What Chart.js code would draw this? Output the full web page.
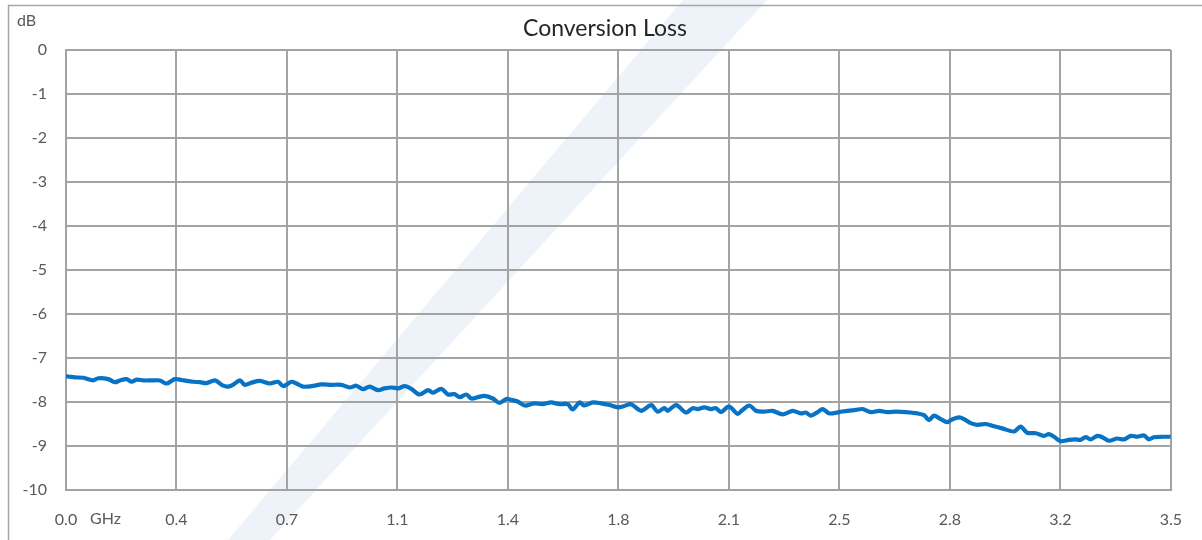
<!DOCTYPE html>
<html>
<head>
<meta charset="utf-8">
<script src="https://cdn.jsdelivr.net/npm/chart.js@4.4.1/dist/chart.umd.min.js"></script>
<style>
html,body{margin:0;padding:0;background:#fff;}
#wrap{width:1202px;height:540px;position:relative;}
</style>
</head>
<body>
<div id="wrap"><canvas id="c" width="1202" height="540"></canvas></div>
<script>
const chartTitle = 'Conversion Loss';
const yUnit = 'dB';
const xUnit = 'GHz';
const xTickValues = [0, 0.35, 0.7, 1.05, 1.4, 1.75, 2.1, 2.45, 2.8, 3.15, 3.5];
const xTickLabels = ['0.0', '0.4', '0.7', '1.1', '1.4', '1.8', '2.1', '2.5', '2.8', '3.2', '3.5'];
const yTickValues = [0, -1, -2, -3, -4, -5, -6, -7, -8, -9, -10];

const freqGHz = [
 0.000,0.007,0.028,0.055,0.086,0.102,0.134,0.155,0.171,0.192,0.208,0.224,0.245,0.271,0.297,0.319,0.345,0.366,0.382,0.403,0.424,0.445,0.472,0.498,0.514,0.529,0.551,0.566,0.588,0.614,0.646,0.672,0.688,
 0.714,0.730,0.751,0.778,0.809,0.841,0.872,0.899,0.920,0.941,0.962,0.988,1.009,1.031,1.052,1.073,1.094,1.120,1.147,1.162,1.189,1.210,1.231,1.247,1.268,1.284,1.305,1.326,1.352,1.373,1.395,
 1.410,1.431,1.453,1.484,1.510,1.537,1.563,1.590,1.605,1.627,1.642,1.669,1.695,1.722,1.748,1.769,1.790,1.822,1.854,1.874,1.896,1.906,1.933,1.964,1.985,2.001,2.022,2.043,2.059,2.075,2.096,
 2.107,2.128,2.143,2.165,2.186,2.212,2.238,2.270,2.302,2.328,2.344,2.360,2.381,2.397,2.418,2.449,2.476,2.502,2.523,2.550,2.576,2.602,2.629,2.661,2.697,2.718,2.734,2.750,2.771,2.792,
 2.803,2.829,2.845,2.866,2.887,2.914,2.940,2.966,3.003,3.024,3.045,3.072,3.098,3.114,3.130,3.151,3.177,3.198,3.214,3.230,3.246,3.267,3.283,3.304,3.330,3.351,3.373,3.394,3.415,3.430,3.446,3.473,3.500
];
const lossDb = [
 -7.42,-7.42,-7.44,-7.45,-7.51,-7.46,-7.48,-7.55,-7.51,-7.48,-7.54,-7.49,-7.51,-7.51,-7.51,-7.58,-7.48,-7.50,-7.52,-7.54,-7.55,-7.57,-7.51,-7.63,-7.65,-7.61,-7.51,-7.61,-7.56,-7.52,-7.58,-7.54,-7.64,
 -7.54,-7.58,-7.65,-7.64,-7.60,-7.61,-7.61,-7.67,-7.63,-7.71,-7.65,-7.73,-7.69,-7.67,-7.69,-7.64,-7.70,-7.83,-7.73,-7.79,-7.70,-7.83,-7.82,-7.89,-7.83,-7.92,-7.89,-7.86,-7.92,-8.02,-7.93,
 -7.95,-7.99,-8.08,-8.03,-8.05,-8.01,-8.05,-8.05,-8.17,-8.01,-8.08,-8.01,-8.03,-8.07,-8.12,-8.09,-8.05,-8.20,-8.07,-8.22,-8.14,-8.20,-8.07,-8.24,-8.14,-8.16,-8.12,-8.16,-8.14,-8.23,-8.11,
 -8.13,-8.27,-8.18,-8.08,-8.20,-8.22,-8.20,-8.28,-8.20,-8.26,-8.24,-8.31,-8.23,-8.16,-8.26,-8.23,-8.20,-8.18,-8.16,-8.23,-8.20,-8.23,-8.22,-8.23,-8.26,-8.30,-8.41,-8.31,-8.39,-8.46,
 -8.41,-8.35,-8.39,-8.48,-8.52,-8.50,-8.55,-8.60,-8.67,-8.56,-8.70,-8.71,-8.77,-8.73,-8.79,-8.89,-8.86,-8.85,-8.86,-8.80,-8.85,-8.77,-8.80,-8.88,-8.83,-8.85,-8.77,-8.79,-8.76,-8.85,-8.80,-8.79,-8.79
];

const FONT = 'Lato, "Open Sans", sans-serif';
const GRID = '#a3a3a3';
const TICK = '#595959';

const decor = {
  id: 'decor',
  beforeDraw(chart) {
    const ctx = chart.ctx;
    ctx.save();
    ctx.fillStyle = '#ffffff';
    ctx.fillRect(0, 0, chart.width, chart.height);
    // faint watermark band
    ctx.fillStyle = '#eef3fa';
    ctx.beginPath();
    ctx.moveTo(683, 0);
    ctx.lineTo(767, 0);
    ctx.lineTo(270, 540);
    ctx.lineTo(228, 540);
    ctx.closePath();
    ctx.fill();
    ctx.strokeStyle = '#a6a6a6';
    ctx.lineWidth = 1.5;
    ctx.strokeRect(8.5, 5.5, 1400, 700);
    ctx.restore();
  },
  afterDraw(chart) {
    const ctx = chart.ctx;
    ctx.save();
    ctx.fillStyle = '#262626';
    ctx.font = '23px ' + FONT;
    ctx.textAlign = 'center';
    ctx.textBaseline = 'middle';
    ctx.fillText(chartTitle, 605, 29);
    ctx.fillStyle = TICK;
    ctx.font = '16px ' + FONT;
    ctx.textAlign = 'left';
    ctx.fillText(yUnit, 17, 21);
    const xs = chart.scales.x;
    ctx.fillText(xUnit, xs.getPixelForValue(0) + 24, 519);
    ctx.restore();
  }
};

new Chart(document.getElementById('c'), {
  type: 'line',
  data: {
    datasets: [{
      data: freqGHz.map((f, i) => ({x: f, y: lossDb[i]})),
      borderColor: '#0873c4',
      borderWidth: 4.2,
      pointRadius: 0,
      tension: 0.3,
      fill: false
    }]
  },
  options: {
    responsive: false,
    animation: false,
    devicePixelRatio: 1,
    layout: {padding: {left: 0, right: 30, top: 50, bottom: 0}},
    plugins: {legend: {display: false}, tooltip: {enabled: false}, title: {display: false}},
    scales: {
      x: {
        type: 'linear', min: 0, max: 3.5,
        afterBuildTicks(s) { s.ticks = xTickValues.map(v => ({value: v})); },
        afterFit(s) { s.height = 50; },
        grid: {color: GRID, lineWidth: 2, drawTicks: false},
        border: {color: GRID, width: 2},
        ticks: {
          padding: 20, maxRotation: 0, autoSkip: false,
          color: TICK, font: {family: FONT, size: 16},
          callback(v, i) { return xTickLabels[i]; }
        }
      },
      y: {
        min: -10, max: 0,
        afterBuildTicks(s) { s.ticks = yTickValues.map(v => ({value: v})); },
        afterFit(s) { s.width = 66; },
        grid: {color: GRID, lineWidth: 2, drawTicks: false},
        border: {color: GRID, width: 2},
        ticks: {
          padding: 19, color: TICK, font: {family: FONT, size: 16},
          callback(v) { return String(v); }
        }
      }
    }
  },
  plugins: [decor]
});
</script>
</body>
</html>
